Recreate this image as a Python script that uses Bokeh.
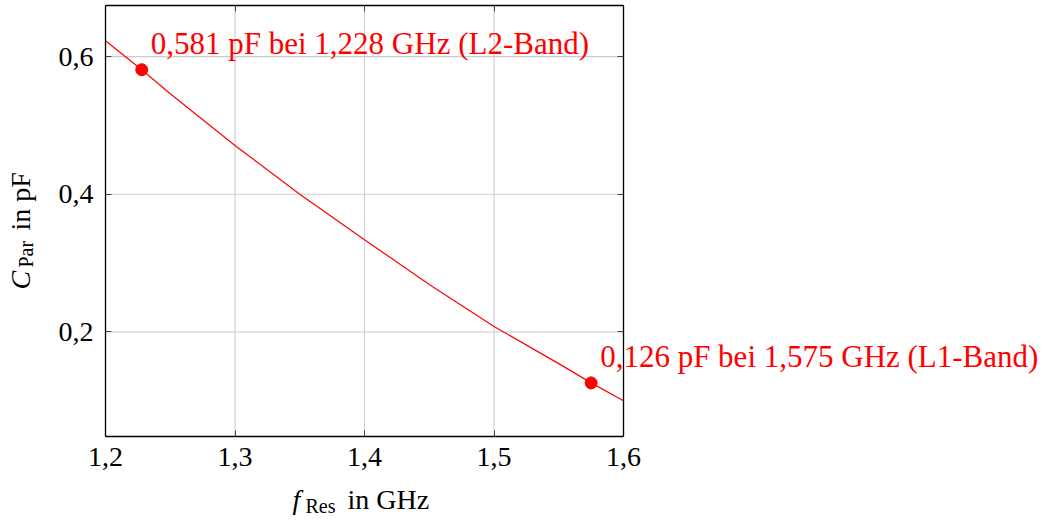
import math
from bokeh.plotting import figure
from bokeh.models import ColumnDataSource, LabelSet, Label, FixedTicker, LinearAxis, Range1d
from bokeh.embed import file_html
from bokeh.resources import INLINE

# ---- data ----
freq_ghz = [1.2, 1.228, 1.25, 1.3, 1.35, 1.4, 1.45, 1.5, 1.55, 1.575, 1.6]
c_par_pf = [0.623, 0.581, 0.546, 0.471, 0.400, 0.334, 0.269, 0.208, 0.154, 0.126, 0.100]
mark_f = [1.228, 1.575]
mark_c = [0.581, 0.126]
mark_text = ["0,581 pF bei 1,228 GHz (L2-Band)", "0,126 pF bei 1,575 GHz (L1-Band)"]
x_ticks = [1.2, 1.3, 1.4, 1.5, 1.6]
x_tick_labels = ["1,2", "1,3", "1,4", "1,5", "1,6"]
y_ticks = [0.2, 0.4, 0.6]
y_tick_labels = ["0,2", "0,4", "0,6"]

FONT = "Liberation Serif"
RED = "#ff0000"

# axis box geometry (pixels) and axis limits
L, R, T, B = 105, 623, 5, 436
W, H = 1042, 520
x0, x1 = 1.2, 1.6
y0, y1 = 0.0481, 0.6743

XPX = (x1 - x0) / (R - L)
YPX = (y1 - y0) / (B - T)
x_lo, x_hi = x0 - L * XPX, x0 + (W - L) * XPX
y_lo, y_hi = y0 - (H - B) * YPX, y1 + T * YPX

def px2x(px):
    return x_lo + px * XPX

def py2y(py):
    return y_hi - py * YPX

p = figure(width=W, height=H, output_backend="svg", toolbar_location=None,
           x_range=Range1d(x_lo, x_hi), y_range=Range1d(y_lo, y_hi), min_border=0)
p.min_border_left = p.min_border_right = p.min_border_top = p.min_border_bottom = 0
p.background_fill_color = "white"
p.border_fill_color = "white"
p.outline_line_color = None
p.grid.visible = False

# grid lines inside the axis box
p.segment(x0=x_ticks, y0=[y0] * len(x_ticks), x1=x_ticks, y1=[y1] * len(x_ticks),
          line_color="#cccccc", line_width=1.1)
p.segment(x0=[x0] * len(y_ticks), y0=y_ticks, x1=[x1] * len(y_ticks), y1=y_ticks,
          line_color="#cccccc", line_width=1.1)

def style_axis(ax, ticks, labels=None):
    ax.ticker = FixedTicker(ticks=ticks)
    ax.major_tick_in = 6
    ax.major_tick_out = 0
    ax.minor_tick_line_color = None
    ax.major_tick_line_color = "#444444"
    ax.axis_line_color = "black"
    ax.axis_line_width = 1.3
    ax.major_label_text_font = FONT
    ax.major_label_text_font_size = "28px"
    if labels is None:
        ax.major_label_text_color = None
        ax.major_label_standoff = 0
    else:
        ax.major_label_overrides = {t: l for t, l in zip(ticks, labels)}
        ax.major_label_text_color = "black"

xa = p.xaxis[0]
style_axis(xa, x_ticks, x_tick_labels)
xa.fixed_location = y0
xa.bounds = (x0, x1)
xa.major_label_standoff = 11

ya = p.yaxis[0]
style_axis(ya, y_ticks, y_tick_labels)
ya.fixed_location = x0
ya.bounds = (y0, y1)
ya.major_label_standoff = 12

top = LinearAxis()
style_axis(top, x_ticks)
top.fixed_location = y1
top.bounds = (x0, x1)
p.add_layout(top, "above")

right = LinearAxis()
style_axis(right, y_ticks)
right.fixed_location = x1
right.bounds = (y0, y1)
p.add_layout(right, "right")

# curve and marked points
p.line(freq_ghz, c_par_pf, line_color=RED, line_width=1.2)
src = ColumnDataSource(dict(f=mark_f, c=mark_c, t=mark_text))
p.scatter("f", "c", source=src, size=12, fill_color=RED, line_color=RED)
p.add_layout(LabelSet(x="f", y="c", text="t", source=src, x_offset=9, y_offset=16,
                      text_font=FONT, text_font_size="31px", text_color=RED,
                      text_align="left", text_baseline="alphabetic"))

# axis titles composed from pieces (italic symbol, subscript, unit)
def lab(txt, px, py, size, style="normal", angle=0.0):
    p.add_layout(Label(x=px2x(px), y=py2y(py), text=txt, text_font=FONT,
                       text_font_size=size, text_font_style=style, text_color="black",
                       angle=angle, text_align="left", text_baseline="alphabetic"))

lab("f", 292, 499, "28px", "italic")
lab("Res", 305, 505, "20px")
lab("in GHz", 347, 499, "28px")

lab("C", 20, 289, "28px", "italic", math.pi / 2)
lab("Par", 25, 267, "20px", "normal", math.pi / 2)
lab("in pF", 20, 230, "28px", "normal", math.pi / 2)

open("out.html", "w").write(file_html(p, INLINE))
